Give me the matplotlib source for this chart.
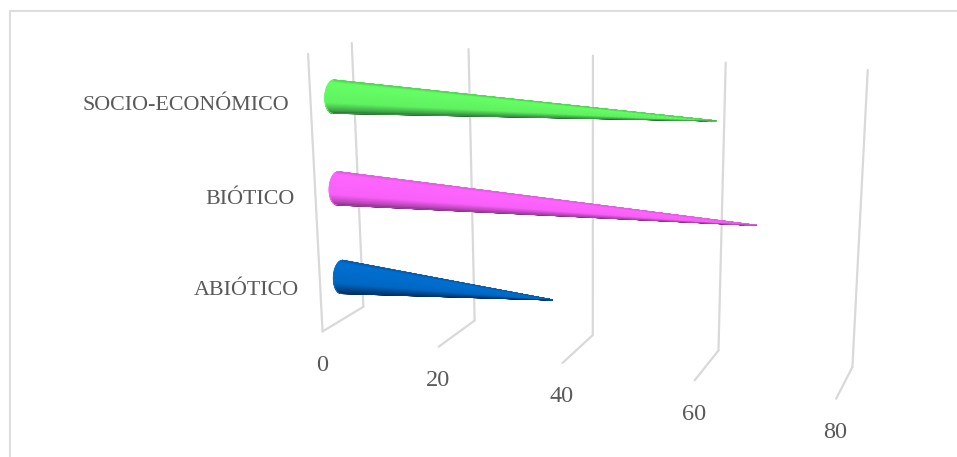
import numpy as np
import matplotlib
matplotlib.use("Agg")
import matplotlib.pyplot as plt
from matplotlib.colors import LinearSegmentedColormap

# chart values, bottom category first
categories = ["ABIÓTICO", "BIÓTICO", "SOCIO-ECONÓMICO"]
values = [35.9, 66.7, 60.5]
ticks = [0, 20, 40, 60, 80]
tick_labels = ["0", "20", "40", "60", "80"]

# where the 3D box lands in the picture: (value, depth, height) -> pixel
box_points = [(0, 0, 0), (0, 1, 0), (0, 1, 1), (0, 0, 1),
              (20, 0, 0), (20, 1, 0), (20, 1, 1),
              (40, 0, 0), (40, 1, 0), (40, 1, 1),
              (60, 0, 0), (60, 1, 0), (60, 1, 1),
              (80, 0, 0), (80, 1, 0), (80, 1, 1)]
box_pixels = [(322.7, 331), (363, 307), (351.7, 43.5), (308, 54),
              (438.5, 347), (475, 320), (468.5, 49),
              (562.5, 363), (592.8, 335), (593, 55),
              (695, 380), (718.8, 351), (726, 62.5),
              (836, 399), (852, 367), (867.5, 70)]

# upper edge to lower edge colours for each cone
shades = [["#0a5cae", "#0070d2", "#0068c4", "#003f7c", "#002a55"],
          ["#e45ee4", "#ff66ff", "#f95ff9", "#b043b0", "#6e2a6e"],
          ["#52d852", "#66ff66", "#60f260", "#3f9f49", "#1f5f27"]]

GRID = "#d9d9d9"
TEXT = "#595959"


def fit_camera(points, pixels):
    rows, rhs = [], []
    for (v, d, h), (px, py) in zip(points, pixels):
        rows.append([v, d, h, 1, 0, 0, 0, 0, -px * v, -px * d, -px * h])
        rows.append([0, 0, 0, 0, v, d, h, 1, -py * v, -py * d, -py * h])
        rhs += [px, py]
    sol = np.linalg.lstsq(np.array(rows, float), np.array(rhs, float), rcond=None)[0]
    return np.append(sol, 1.0).reshape(3, 4)


camera = fit_camera(box_points, box_pixels)


def project(v, d, h):
    w = camera @ np.array([v, d, h, 1.0])
    return w[0] / w[2], w[1] / w[2]


def draw_line(ax, a, b):
    p, q = project(*a), project(*b)
    ax.plot([p[0], q[0]], [p[1], q[1]], color=GRID, lw=1.6, solid_capstyle="round", zorder=1)


def draw_cone(ax, value, height, colors):
    base = np.array(project(0, 0.5, height)) + np.array([0.5, 1.3])
    tip = np.array(project(value, 0.5, height))
    up = np.array([0.7, -16.6])
    side = np.array([-8.5, 0.0])
    s = np.linspace(0, 1, 300)[:, None]
    phi = np.linspace(-np.pi / 2, np.pi / 2, 40)[None, :]
    centre_x = base[0] + s * (tip[0] - base[0])
    centre_y = base[1] + s * (tip[1] - base[1])
    X = centre_x + (1 - s) * (up[0] * np.sin(phi) + side[0] * np.cos(phi))
    Y = centre_y + (1 - s) * (up[1] * np.sin(phi) + side[1] * np.cos(phi))
    # 0 at the upper edge, 1 at the lower edge
    C = np.repeat((1 - np.sin(phi)) / 2, len(s), axis=0)
    cmap = LinearSegmentedColormap.from_list(
        "cone", list(zip([0, 0.06, 0.68, 0.92, 1], colors)))
    ax.pcolormesh(X, Y, C, cmap=cmap, shading="gouraud", vmin=0, vmax=1, zorder=3)
    # thin antialiased outline to soften the edge of the mesh
    ax.plot(X[:, -1], Y[:, -1], color=colors[0], lw=0.6, zorder=4)
    ax.plot(X[:, 0], Y[:, 0], color=colors[3], lw=0.6, zorder=4)
    ax.plot(X[0, :], Y[0, :], color=colors[1], lw=0.6, zorder=4)


plt.rcParams["font.family"] = ["Liberation Serif", "DejaVu Serif"]
fig = plt.figure(figsize=(9.57, 4.57), dpi=100)
ax = fig.add_axes([0, 0, 1, 1])
ax.set_xlim(0, 957)
ax.set_ylim(457, 0)
ax.axis("off")

# chart frame
ax.plot([9.5, 9.5, 957], [457, 10.5, 10.5], color="#dedede", lw=1.5, zorder=1)

# walls and floor grid
draw_line(ax, (0, 0, 0), (0, 0, 1))
for t in ticks:
    draw_line(ax, (t, 0, 0), (t, 1, 0))
    draw_line(ax, (t, 1, 0), (t, 1, 1))

for i, (value, cat) in enumerate(zip(values, categories)):
    height = (i + 0.5) / len(categories)
    draw_cone(ax, value, height, shades[i])
    x, y = project(0, 0, height)
    ax.text(x - 21, y + 3.5, cat, ha="right", va="center", color=TEXT, fontsize=15.8)

for t, label in zip(ticks, tick_labels):
    x, y = project(t, 0, 0)
    ax.text(x - 0.5, y + 34, label, ha="center", va="center", color=TEXT, fontsize=17.5)

fig.savefig("out.png", dpi=100)
